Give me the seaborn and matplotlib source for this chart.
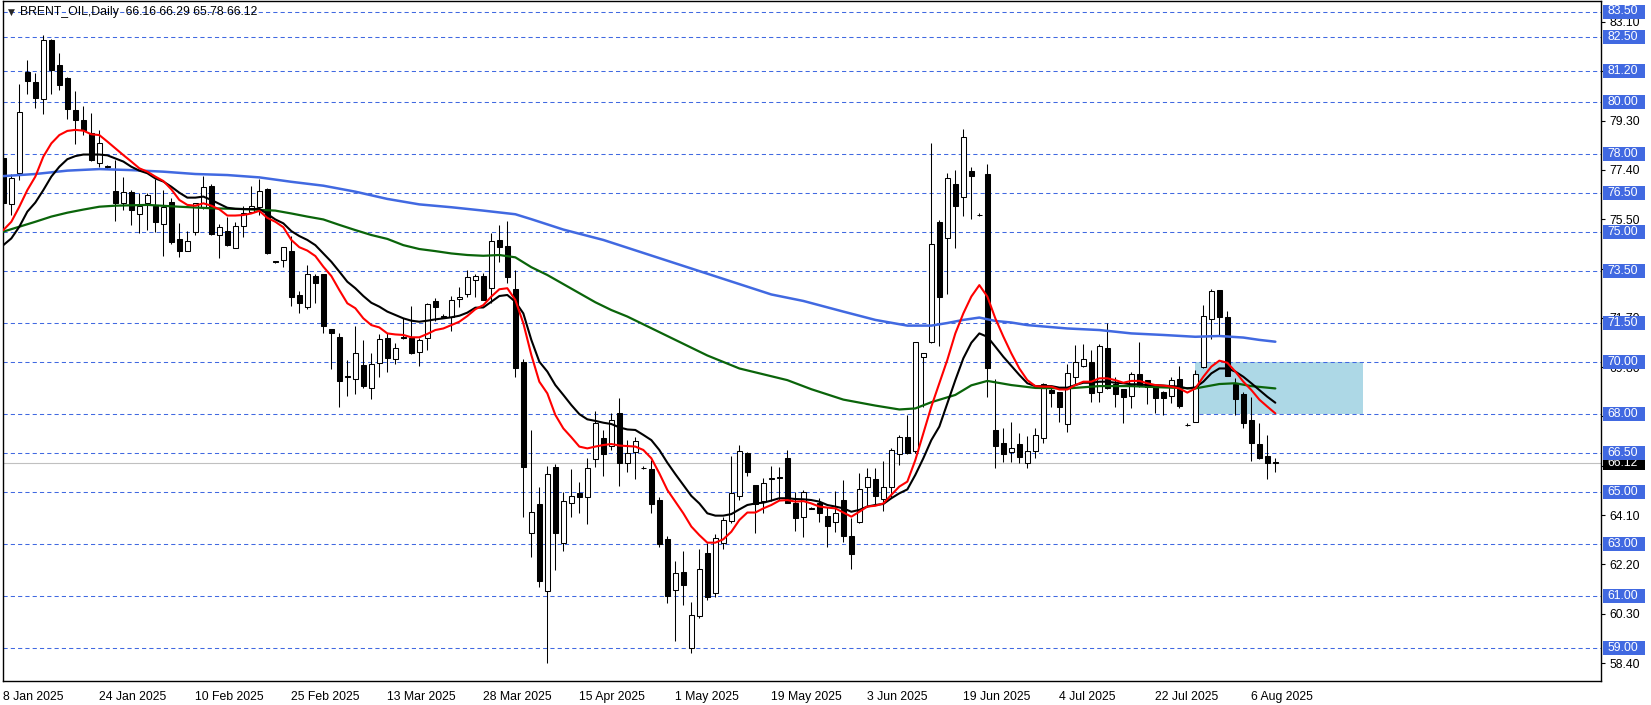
import matplotlib
matplotlib.use("Agg")
import matplotlib.pyplot as plt
import matplotlib.transforms as mtrans
from matplotlib.patches import Rectangle
import numpy as np
import pandas as pd
import seaborn as sns

sns.set_style("white")
plt.rcParams["font.family"] = ["Liberation Sans", "DejaVu Sans"]

# ---------------- data ----------------
symbol_title = "BRENT_OIL,Daily  66.16 66.29 65.78 66.12"

opens = [77.86, 76.09, 77.29, 81.18, 80.77, 80.14, 82.40, 81.44, 80.95, 79.71,
         79.32, 78.81, 77.68, 77.55, 76.57, 76.14, 76.53, 75.69, 76.11, 76.01,
         75.30, 76.15, 74.72, 74.26, 75.00, 75.98, 76.78, 74.89, 75.05, 74.38,
         75.22, 75.79, 75.95, 76.65, 73.88, 73.93, 74.27, 72.58, 72.13, 73.31,
         73.39, 71.26, 70.95, 69.43, 69.33, 69.88, 68.98, 69.95, 70.91, 70.10,
         70.97, 70.91, 70.40, 70.91, 72.36, 71.76, 71.74, 72.41, 72.62, 73.16,
         73.31, 72.84, 74.70, 74.47, 72.81, 70.01, 63.43, 64.53, 61.16, 65.94,
         63.01, 64.56, 64.94, 64.79, 66.25, 67.06, 66.76, 68.05, 66.12, 66.55,
         65.92, 65.88, 64.68, 63.18, 61.22, 61.92, 58.99, 60.23, 62.65, 61.11,
         63.01, 63.89, 64.85, 66.51, 65.26, 64.66, 65.50, 65.55, 66.29, 64.55,
         64.01, 64.37, 64.55, 64.07, 63.85, 64.68, 63.30, 63.85, 65.17, 65.48,
         64.72, 65.20, 66.46, 67.10, 66.57, 70.18, 70.78, 75.38, 74.76, 76.84,
         76.37, 77.36, 75.67, 77.24, 67.38, 66.89, 66.52, 66.84, 66.10, 66.57,
         67.09, 68.92, 68.83, 67.60, 69.43, 69.86, 69.98, 68.83, 70.52, 69.14,
         68.96, 68.70, 69.52, 69.30, 69.07, 68.83, 68.70, 69.34, 67.58, 67.70,
         69.79, 71.64, 72.77, 71.72, 69.15, 68.76, 67.76, 66.84, 66.38, 66.16]

highs = [78.10, 77.24, 80.71, 81.63, 81.12, 82.60, 82.44, 81.89, 80.99, 80.44,
         79.86, 79.58, 78.94, 77.60, 77.78, 77.11, 76.62, 76.52, 76.52, 77.04,
         76.62, 76.30, 75.34, 75.06, 76.14, 77.16, 76.85, 75.30, 75.60, 75.38,
         76.01, 76.78, 77.04, 76.69, 73.90, 74.42, 74.85, 72.75, 73.73, 73.38,
         73.39, 71.26, 71.13, 70.08, 71.39, 70.85, 70.36, 71.08, 71.10, 70.72,
         71.68, 72.16, 70.91, 72.28, 72.45, 71.85, 72.54, 72.90, 73.54, 73.39,
         73.44, 74.98, 75.28, 75.43, 73.54, 70.10, 67.38, 65.20, 66.00, 66.07,
         65.00, 65.88, 65.39, 66.29, 68.11, 67.38, 68.02, 68.60, 66.99, 67.10,
         65.98, 66.22, 64.81, 63.31, 62.35, 62.72, 60.77, 62.78, 63.01, 63.37,
         64.04, 66.38, 66.80, 66.55, 65.26, 65.54, 65.99, 65.97, 66.61, 65.00,
         65.07, 64.42, 64.75, 64.42, 65.04, 65.45, 63.98, 65.71, 65.90, 65.90,
         66.20, 66.67, 67.19, 67.96, 70.78, 70.33, 78.45, 75.47, 77.27, 77.40,
         78.96, 77.52, 75.75, 77.63, 69.33, 67.44, 67.70, 67.25, 67.15, 67.44,
         69.18, 68.98, 68.83, 69.91, 70.65, 70.69, 70.46, 70.69, 71.49, 69.43,
         68.96, 69.60, 70.76, 69.30, 69.15, 68.89, 69.41, 69.84, 67.63, 69.69,
         72.19, 72.81, 72.77, 71.96, 69.37, 68.85, 68.66, 67.64, 67.19, 66.29]

lows = [75.90, 75.66, 77.01, 80.32, 79.80, 79.55, 80.32, 80.48, 79.36, 78.40,
        78.74, 77.74, 77.52, 77.45, 75.44, 75.85, 75.29, 74.95, 75.08, 75.02,
        74.10, 74.54, 74.06, 74.26, 74.89, 75.88, 74.89, 74.02, 74.48, 74.38,
        74.83, 75.72, 75.66, 74.16, 73.82, 73.65, 72.16, 71.87, 72.03, 72.28,
        71.13, 69.72, 68.28, 68.69, 68.77, 68.98, 68.57, 69.43, 69.63, 69.91,
        70.88, 70.31, 69.84, 70.46, 71.59, 71.68, 71.21, 72.13, 72.49, 72.49,
        72.39, 72.28, 73.86, 73.03, 69.43, 64.02, 62.47, 61.32, 58.39, 61.99,
        62.73, 64.02, 64.20, 63.76, 65.94, 65.61, 66.61, 65.22, 65.77, 65.49,
        65.86, 64.20, 62.89, 60.73, 59.26, 60.64, 58.80, 60.12, 60.83, 60.96,
        62.78, 63.81, 64.68, 65.61, 63.40, 64.17, 64.66, 64.68, 64.55, 63.50,
        63.27, 64.32, 63.85, 62.89, 63.46, 63.08, 62.01, 63.81, 64.43, 64.49,
        64.27, 64.81, 66.03, 66.46, 66.48, 68.28, 70.72, 70.63, 72.62, 74.40,
        75.62, 75.49, 75.62, 68.64, 65.90, 66.16, 66.16, 66.10, 65.90, 66.29,
        66.89, 68.28, 67.70, 67.31, 69.11, 69.82, 68.47, 68.47, 68.96, 68.28,
        67.66, 68.24, 69.02, 68.38, 68.05, 67.96, 68.41, 68.24, 67.55, 67.70,
        69.75, 70.87, 71.04, 69.46, 67.96, 67.44, 66.20, 66.25, 65.48, 65.78]

closes = [76.13, 77.07, 79.62, 80.84, 80.18, 82.39, 81.25, 80.67, 79.74, 79.32,
          78.94, 77.78, 78.42, 77.50, 76.14, 76.53, 75.85, 76.02, 76.43, 75.40,
          75.98, 74.63, 74.26, 74.66, 76.14, 76.75, 74.92, 75.21, 74.51, 75.25,
          75.72, 76.02, 76.60, 74.21, 73.86, 74.42, 72.52, 72.26, 73.38, 73.03,
          71.40, 71.10, 69.28, 69.41, 70.33, 69.09, 69.92, 70.87, 70.14, 70.52,
          70.91, 70.36, 70.85, 72.23, 72.13, 71.72, 72.39, 72.49, 73.26, 73.31,
          72.39, 74.66, 74.44, 73.28, 69.78, 65.94, 64.23, 61.58, 65.67, 63.40,
          64.66, 64.84, 64.81, 65.90, 67.64, 66.44, 67.76, 66.12, 66.48, 66.96,
          65.90, 64.52, 62.97, 61.00, 61.86, 61.41, 60.25, 62.01, 60.93, 63.20,
          63.91, 64.94, 66.57, 65.77, 64.53, 65.35, 65.52, 65.52, 64.55, 63.97,
          64.98, 64.35, 64.17, 63.68, 64.17, 63.31, 62.60, 65.09, 65.56, 64.85,
          65.20, 66.61, 67.10, 66.51, 70.76, 70.33, 74.53, 72.52, 77.07, 76.02,
          78.68, 77.18, 75.65, 69.76, 66.76, 66.45, 66.67, 66.35, 66.58, 67.19,
          69.14, 68.79, 68.25, 69.56, 69.98, 70.10, 68.82, 70.63, 68.98, 68.76,
          68.66, 69.52, 69.11, 69.02, 68.62, 68.60, 69.30, 68.30, 67.56, 69.52,
          71.77, 72.73, 71.74, 69.46, 68.57, 67.66, 66.89, 66.31, 66.12, 66.12]

ma_red = [75.08, 75.40, 75.98, 76.62, 77.14, 77.91, 78.42, 78.74, 78.90, 78.94,
          78.91, 78.77, 78.74, 78.49, 78.23, 77.97, 77.72, 77.46, 77.33, 77.14,
          76.97, 76.65, 76.24, 76.05, 76.02, 76.11, 76.02, 75.88, 75.64, 75.64,
          75.66, 75.72, 75.82, 75.55, 75.40, 75.19, 74.70, 74.42, 74.29, 74.08,
          73.67, 73.31, 72.77, 72.26, 72.07, 71.68, 71.42, 71.33, 71.10, 71.06,
          71.04, 70.95, 70.95, 71.08, 71.23, 71.29, 71.42, 71.55, 71.77, 72.03,
          72.19, 72.52, 72.80, 72.84, 72.39, 71.49, 70.27, 69.24, 68.79, 67.96,
          67.44, 67.10, 66.74, 66.67, 66.74, 66.80, 66.84, 66.78, 66.76, 66.74,
          66.61, 66.29, 65.71, 65.07, 64.62, 64.17, 63.66, 63.33, 63.04, 63.04,
          63.17, 63.46, 63.91, 64.20, 64.20, 64.36, 64.49, 64.66, 64.68, 64.62,
          64.64, 64.55, 64.43, 64.39, 64.36, 64.20, 64.04, 64.23, 64.43, 64.46,
          64.55, 64.88, 65.20, 65.39, 66.22, 67.25, 68.28, 69.18, 70.08, 71.10,
          71.87, 72.52, 72.96, 72.52, 71.68, 70.98, 70.33, 69.75, 69.30, 69.07,
          69.05, 69.05, 68.94, 68.94, 69.11, 69.24, 69.24, 69.37, 69.37, 69.30,
          69.20, 69.27, 69.27, 69.18, 69.11, 69.09, 69.05, 68.98, 68.82, 68.98,
          69.43, 69.82, 70.05, 69.97, 69.63, 69.24, 68.92, 68.55, 68.28, 68.02]

ma_black = [74.50, 74.76, 75.21, 75.79, 76.14, 76.62, 77.14, 77.52, 77.81, 77.93,
            77.99, 77.99, 77.99, 77.96, 77.84, 77.72, 77.52, 77.37, 77.27, 77.07,
            76.95, 76.75, 76.52, 76.33, 76.33, 76.37, 76.24, 76.09, 75.94, 75.90,
            75.89, 75.89, 75.90, 75.70, 75.49, 75.34, 75.04, 74.85, 74.70, 74.50,
            74.18, 73.86, 73.48, 73.09, 72.84, 72.54, 72.28, 72.13, 71.94, 71.81,
            71.68, 71.59, 71.55, 71.59, 71.64, 71.68, 71.72, 71.78, 71.90, 72.09,
            72.10, 72.32, 72.54, 72.58, 72.32, 71.87, 70.85, 70.01, 69.63, 69.11,
            68.73, 68.34, 67.99, 67.79, 67.73, 67.66, 67.61, 67.48, 67.40, 67.38,
            67.19, 66.99, 66.61, 66.12, 65.68, 65.26, 64.84, 64.55, 64.17, 64.08,
            64.08, 64.14, 64.32, 64.49, 64.55, 64.58, 64.66, 64.75, 64.75, 64.72,
            64.71, 64.68, 64.62, 64.49, 64.43, 64.36, 64.23, 64.30, 64.43, 64.49,
            64.53, 64.75, 64.94, 65.09, 65.65, 66.29, 66.99, 67.51, 68.41, 69.30,
            70.14, 70.74, 71.10, 70.97, 70.59, 70.20, 69.85, 69.50, 69.18, 69.07,
            69.07, 69.07, 69.01, 69.01, 69.11, 69.20, 69.20, 69.24, 69.24, 69.20,
            69.18, 69.14, 69.14, 69.11, 69.11, 69.09, 69.07, 69.05, 68.98, 69.02,
            69.24, 69.56, 69.75, 69.75, 69.63, 69.43, 69.18, 68.92, 68.66, 68.43]

ma_green_bar = [0, 2, 4, 6, 8, 10, 12, 14, 18, 22, 26, 30, 34, 36, 38, 40, 42, 44,
                46, 48, 50, 52, 54, 56, 58, 60, 62, 64, 66, 68, 70, 72, 74, 76, 78,
                80, 82, 84, 86, 88, 90, 92, 94, 96, 98, 101, 105, 109, 112, 114,
                116, 119, 121, 123, 126, 129, 133, 137, 141, 145, 149, 152, 154,
                156, 159]
ma_green = [75.02, 75.21, 75.40, 75.60, 75.75, 75.87, 75.98, 76.02, 76.05, 75.98,
            75.92, 75.89, 75.83, 75.72, 75.60, 75.49, 75.28, 75.08, 74.89, 74.74,
            74.50, 74.35, 74.27, 74.18, 74.12, 74.09, 74.12, 74.03, 73.65, 73.35,
            73.00, 72.65, 72.30, 72.00, 71.75, 71.45, 71.15, 70.85, 70.55, 70.25,
            70.00, 69.75, 69.60, 69.45, 69.30, 68.95, 68.55, 68.32, 68.17, 68.21,
            68.45, 68.73, 69.10, 69.27, 69.11, 69.00, 68.98, 69.07, 69.07, 69.02,
            68.98, 69.15, 69.18, 69.07, 68.98]

ma_blue_bar = [0, 4, 8, 12, 16, 20, 24, 28, 32, 36, 40, 44, 48, 52, 56, 60, 64,
               66, 70, 75, 80, 85, 90, 96, 100, 105, 109, 113, 116, 118, 120, 122,
               124, 126, 128, 133, 137, 141, 145, 149, 152, 155, 157, 159]
ma_blue = [77.16, 77.24, 77.37, 77.43, 77.39, 77.33, 77.24, 77.20, 77.11, 76.94,
           76.79, 76.56, 76.28, 76.07, 75.96, 75.83, 75.69, 75.50, 75.10, 74.70,
           74.20, 73.70, 73.20, 72.60, 72.35, 71.94, 71.62, 71.40, 71.40, 71.50,
           71.62, 71.71, 71.58, 71.52, 71.42, 71.29, 71.23, 71.10, 71.04, 70.97,
           71.00, 70.94, 70.85, 70.78]

level_lines = [83.50, 82.50, 81.20, 80.00, 78.00, 76.50, 75.00, 73.50, 71.50,
               70.00, 68.00, 66.50, 65.00, 63.00, 61.00, 59.00]
axis_ticks = [58.40, 60.30, 62.20, 64.10, 66.00, 67.90, 69.80, 71.70, 73.60,
              75.50, 77.40, 79.30, 81.20, 83.10]
# tick labels hidden behind the price boxes in the reference
hidden_tick_labels = [66.00, 67.90, 81.20]
last_price = 66.12

zone_bars = [149, 170]
zone_prices = [68.00, 70.00]

date_labels = ["8 Jan 2025", "24 Jan 2025", "10 Feb 2025", "25 Feb 2025",
               "13 Mar 2025", "28 Mar 2025", "15 Apr 2025", "1 May 2025",
               "19 May 2025", "3 Jun 2025", "19 Jun 2025", "4 Jul 2025",
               "22 Jul 2025", "6 Aug 2025"]
date_label_bars = [0, 12, 24, 36, 48, 60, 72, 84, 96, 108, 120, 132, 144, 156]

# ---------------- figure ----------------
W, H = 1651, 705
fig = plt.figure(figsize=(W / 100, H / 100), dpi=100)
ax_l, ax_r, ax_t, ax_b = 2.5, 1601, 1, 681
ax = fig.add_axes([ax_l / W, 1 - ax_b / H, (ax_r - ax_l) / W, (ax_b - ax_t) / H])

px_per_bar = 8.0
px_per_unit = 25.96
x0_px = 3.33
ax.set_xlim((ax_l - x0_px) / px_per_bar, (ax_r - x0_px) / px_per_bar)
ax.set_ylim(83.5 - (ax_b - 11.5) / px_per_unit, 83.5 - (ax_t - 11.5) / px_per_unit)

ROYAL = "#4169e1"
FS = 8.8

# level lines
for lv in level_lines:
    ax.axhline(lv, color=ROYAL, lw=0.75, ls=(0, (4, 3)), zorder=1.5)

# zone rectangle
ax.add_patch(Rectangle((zone_bars[0], zone_prices[0]), zone_bars[1] - zone_bars[0],
                       zone_prices[1] - zone_prices[0], facecolor="#add8e6",
                       edgecolor="none", zorder=1))

# last price line
ax.axhline(last_price, color="#c0c0c0", lw=0.8, zorder=1.6)

# candles
o = np.array(opens); h = np.array(highs); l = np.array(lows); c = np.array(closes)
xb = np.arange(len(o))
up = c >= o
ax.vlines(xb, l, h, color="black", lw=0.75, zorder=3)
lo = np.minimum(o, c)
hh = np.maximum(np.abs(c - o), 0.03)
ax.bar(xb[up], hh[up], bottom=lo[up], width=0.56, color="white",
       edgecolor="black", linewidth=0.75, zorder=4)
ax.bar(xb[~up], hh[~up], bottom=lo[~up], width=0.56, color="black",
       edgecolor="black", linewidth=0.75, zorder=4)

# moving averages
df_fast = pd.DataFrame({"bar": xb, "red": ma_red, "black": ma_black})
df_green = pd.DataFrame({"bar": ma_green_bar, "v": ma_green})
df_blue = pd.DataFrame({"bar": ma_blue_bar, "v": ma_blue})
sns.lineplot(data=df_blue, x="bar", y="v", ax=ax, color=ROYAL, lw=1.8,
             estimator=None, legend=False, zorder=5)
sns.lineplot(data=df_green, x="bar", y="v", ax=ax, color="#0a640a", lw=1.6,
             estimator=None, legend=False, zorder=5)
sns.lineplot(data=df_fast, x="bar", y="black", ax=ax, color="black", lw=1.5,
             estimator=None, legend=False, zorder=6)
sns.lineplot(data=df_fast, x="bar", y="red", ax=ax, color="#ff0000", lw=1.5,
             estimator=None, legend=False, zorder=6)

ax.set_xlabel("")
ax.set_ylabel("")

# spines
for s in ax.spines.values():
    s.set_visible(True)
    s.set_color("black")
    s.set_linewidth(1.0)

# x axis
ax.set_xticks(date_label_bars)
ax.set_xticklabels(date_labels, ha="left", fontsize=FS)
ax.tick_params(axis="x", direction="out", length=4, width=0.8, pad=3,
               colors="black")

# y axis on the right
ax.yaxis.tick_right()
ax.set_yticks(axis_ticks)
ax.set_yticklabels(["" if v in hidden_tick_labels else f"{v:.2f}"
                    for v in axis_ticks], fontsize=FS)
ax.tick_params(axis="y", direction="out", length=3, width=0.8, pad=3,
               colors="black")

# right-side price boxes
bt = mtrans.blended_transform_factory(ax.transAxes, ax.transData)
axw = ax_r - ax_l
box_w = 42 / axw
box_off = 2 / axw
half_h = 7 / px_per_unit


def price_box(val, fc, z):
    ax.add_patch(Rectangle((1 + box_off, val - half_h), box_w, 2 * half_h,
                           transform=bt, facecolor=fc, edgecolor="none",
                           clip_on=False, zorder=z))
    ax.text(1 + box_off + 4 / axw, val, f"{val:.2f}", transform=bt, ha="left",
            va="center", color="white", fontsize=FS, clip_on=False,
            zorder=z + 0.1)


price_box(last_price, "black", 8)
for lv in level_lines:
    price_box(lv, ROYAL, 9)

# title
fig.text(8 / W, 1 - 12 / H, "\u25bc", fontsize=6.5, va="center", ha="left",
         family=["DejaVu Sans"])
fig.text(20 / W, 1 - 12 / H, symbol_title, fontsize=FS, va="center", ha="left",
         color="black")

fig.savefig("out.png", dpi=100)
